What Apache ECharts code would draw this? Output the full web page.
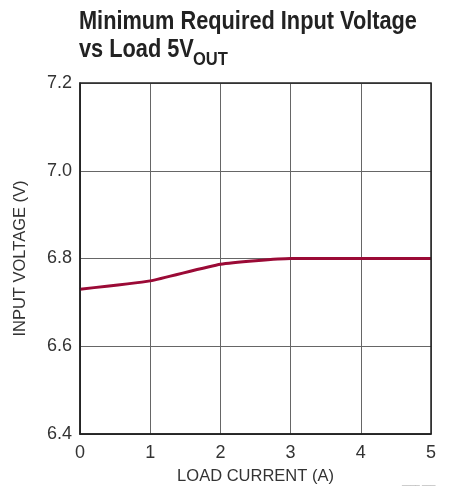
<!DOCTYPE html>
<html>
<head>
<meta charset="utf-8">
<script src="https://cdn.jsdelivr.net/npm/echarts@6/dist/echarts.min.js"></script>
<style>
  html, body { margin: 0; padding: 0; background: #fff; }
  #chart { width: 462px; height: 489px; }
</style>
</head>
<body>
<div id="chart"></div>
<script>
// load current (A) vs minimum input voltage (V)
const loadCurrent = [0, 1, 2, 3, 4, 5]
const inputVoltage = [6.73, 6.749, 6.787, 6.8, 6.8, 6.8]
const xTicks = [0, 1, 2, 3, 4, 5]
const yTicks = [6.4, 6.6, 6.8, 7.0, 7.2]

const font = "'Liberation Sans', Arial, sans-serif"

const chart = echarts.init(document.getElementById('chart'))

chart.setOption({
  animation: false,
  grid: { left: 80, right: 31, top: 83, bottom: 55, outerBoundsMode: 'none' },
  xAxis: {
    type: 'value',
    min: 0,
    max: 5,
    interval: 1,
    name: 'LOAD CURRENT (A)',
    nameLocation: 'middle',
    nameGap: 34,
    nameTextStyle: { fontFamily: font, fontSize: 16.5, color: '#333' },
    axisLine: { show: true, lineStyle: { color: '#222', width: 1.5 } },
    axisTick: { show: false },
    axisLabel: {
      fontFamily: font, fontSize: 18, color: '#333', margin: 10,
      formatter: (v) => xTicks.includes(v) ? String(v) : '',
    },
    splitLine: { show: true, lineStyle: { color: '#666', width: 1 } },
  },
  yAxis: {
    type: 'value',
    min: 6.4,
    max: 7.2,
    interval: 0.2,
    name: 'INPUT VOLTAGE (V)',
    nameLocation: 'middle',
    nameGap: 51,
    nameTextStyle: { fontFamily: font, fontSize: 16.5, color: '#333' },
    axisLine: { show: true, lineStyle: { color: '#222', width: 1.5 } },
    axisTick: { show: false },
    axisLabel: {
      fontFamily: font, fontSize: 18, color: '#333', margin: 8,
      formatter: (v) => {
        const t = yTicks.find((y) => Math.abs(y - v) < 1e-6)
        return t === undefined ? '' : t.toFixed(1)
      },
    },
    splitLine: { show: true, lineStyle: { color: '#666', width: 1 } },
  },
  graphic: [
    {
      // title, squeezed horizontally to look like a condensed face
      type: 'group',
      x: 79,
      y: 0,
      scaleX: 0.87,
      children: [
        {
          type: 'text',
          x: 0, y: 10,
          style: { text: 'Minimum Required Input Voltage', font: `bold 25px ${font}`, fill: '#222' },
        },
        {
          type: 'text',
          x: 0, y: 38,
          style: { text: 'vs Load 5V', font: `bold 25px ${font}`, fill: '#222' },
        },
        {
          type: 'text',
          x: 131, y: 50,
          style: { text: 'OUT', font: `bold 19px ${font}`, fill: '#222' },
        },
      ],
    },
    {
      // plot frame (top and right edges)
      type: 'rect',
      shape: { x: 80, y: 83, width: 351, height: 351 },
      style: { fill: 'none', stroke: '#222', lineWidth: 1.5 },
      z: 10,
    },
    {
      type: 'text',
      x: 402,
      y: 478,
      style: { text: '____ ___', fontSize: 8, fill: '#999', fontFamily: font },
    },
  ],
  series: [
    {
      type: 'line',
      data: loadCurrent.map((x, i) => [x, inputVoltage[i]]),
      showSymbol: false,
      smooth: 0.15,
      lineStyle: { color: '#9b0a36', width: 3 },
      z: 5,
    },
  ],
})
</script>
</body>
</html>
